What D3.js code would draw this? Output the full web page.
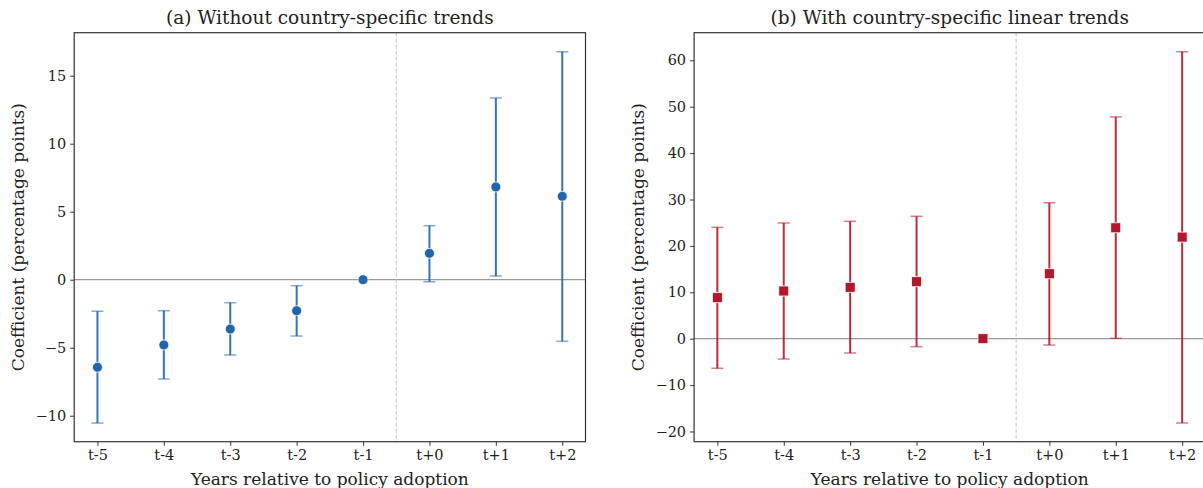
<!DOCTYPE html>
<html>
<head>
    <meta charset="utf-8">
    <title>Event study</title>
    <style>
    body { margin: 0; background: #fff; }
    text { font-family: "DejaVu Serif", serif; fill: #222; }
    </style>
</head>
<body>
<svg id="chart"></svg>
<script src="https://d3js.org/d3.v7.min.js"></script>
<script>

    // tick labels / categories
    const periods = ["t-5", "t-4", "t-3", "t-2", "t-1", "t+0", "t+1", "t+2"];

    // (a) without country-specific trends
    const coefA = [-6.44, -4.80, -3.63, -2.28, 0, 1.94, 6.82, 6.13];
    const lowA  = [-10.54, -7.30, -5.54, -4.14, 0, -0.15, 0.27, -4.53];
    const highA = [-2.32, -2.28, -1.69, -0.44, 0, 3.97, 13.36, 16.76];
    const ticksA = [-10, -5, 0, 5, 10, 15];

    // (b) with country-specific linear trends
    const coefB = [8.84, 10.28, 11.08, 12.28, 0, 14.0, 23.9, 21.9];
    const lowB  = [-6.38, -4.38, -3.08, -1.72, 0, -1.36, 0.08, -18.17];
    const highB = [24.0, 24.94, 25.3, 26.38, 0, 29.3, 47.8, 61.85];
    const ticksB = [-20, -10, 0, 10, 20, 30, 40, 50, 60];

    const svg = d3.select("#chart").attr("width", 1203).attr("height", 488);

    function panel(opts) {
        const left = opts.left, top = 32.7, width = 511.3, height = 409;
        const g = svg.append("g").attr("transform", "translate(" + left + "," + top + ")");

        const x = d3.scalePoint().domain(periods).range([0, width]).padding(0.35);
        const y = d3.scaleLinear().domain(opts.ydomain).range([height, 0]);

        let rows = [];
        for (let i = 0; i < periods.length; i++) {
            rows.push({p: periods[i], c: opts.coef[i], lo: opts.low[i], hi: opts.high[i]});
        }

        // zero line and adoption line
        g.append("line")
            .attr("x1", 0).attr("x2", width)
            .attr("y1", y(0)).attr("y2", y(0))
            .attr("stroke", "#999").attr("stroke-width", 1.2);
        const vx = x("t-1") + x.step() / 2;
        g.append("line")
            .attr("x1", vx).attr("x2", vx)
            .attr("y1", 0).attr("y2", height)
            .attr("stroke", "#c4c4c4").attr("stroke-width", 1)
            .attr("stroke-dasharray", "4,2");

        // error bars (skip the reference period)
        const bars = rows.filter(function(d) { return d.hi !== d.lo; });
        g.selectAll(".eb").data(bars).enter().append("line")
            .attr("x1", function(d) { return x(d.p); })
            .attr("x2", function(d) { return x(d.p); })
            .attr("y1", function(d) { return y(d.lo); })
            .attr("y2", function(d) { return y(d.hi); })
            .attr("stroke", opts.color).attr("stroke-width", 2).attr("opacity", 0.9);
        ["lo", "hi"].forEach(function(k) {
            g.selectAll(".cap-" + k).data(bars).enter().append("line")
                .attr("x1", function(d) { return x(d.p) - 6; })
                .attr("x2", function(d) { return x(d.p) + 6; })
                .attr("y1", function(d) { return y(d[k]); })
                .attr("y2", function(d) { return y(d[k]); })
                .attr("stroke", opts.color).attr("stroke-width", 1.5).attr("opacity", 0.55);
        });

        // markers
        if (opts.square) {
            g.selectAll(".pt").data(rows).enter().append("rect")
                .attr("x", function(d) { return x(d.p) - 5; })
                .attr("y", function(d) { return y(d.c) - 5; })
                .attr("width", 10).attr("height", 10)
                .attr("fill", opts.color).attr("stroke", "#fff").attr("stroke-width", 0.8);
        } else {
            g.selectAll(".pt").data(rows).enter().append("circle")
                .attr("cx", function(d) { return x(d.p); })
                .attr("cy", function(d) { return y(d.c); })
                .attr("r", 5)
                .attr("fill", opts.color).attr("stroke", "#fff").attr("stroke-width", 0.8);
        }

        // axes
        const xAxis = g.append("g")
            .attr("transform", "translate(0," + height + ")")
            .call(d3.axisBottom(x).tickSize(4).tickPadding(4));
        const yAxis = g.append("g")
            .call(d3.axisLeft(y).tickValues(opts.ticks).tickSize(4).tickPadding(4)
                .tickFormat(function(d) { return d < 0 ? "\u2212" + Math.abs(d) : d; }));
        [xAxis, yAxis].forEach(function(a) {
            a.select(".domain").remove();
            a.selectAll(".tick line").attr("stroke", "#333");
            a.selectAll(".tick text").attr("font-size", 14.5).attr("font-family", "DejaVu Serif").attr("fill", "#222");
        });

        // frame
        g.append("rect")
            .attr("width", width).attr("height", height)
            .attr("fill", "none").attr("stroke", "#333").attr("stroke-width", 1.2);

        g.append("text")
            .attr("x", width / 2).attr("y", -9)
            .attr("text-anchor", "middle").attr("font-size", 18.5)
            .text(opts.title);
        g.append("text")
            .attr("x", width / 2).attr("y", height + 43)
            .attr("text-anchor", "middle").attr("font-size", 17)
            .text("Years relative to policy adoption");
        g.append("text")
            .attr("transform", "rotate(-90)")
            .attr("x", -height / 2).attr("y", opts.ylabelOffset)
            .attr("text-anchor", "middle").attr("font-size", 17)
            .text("Coefficient (percentage points)");
    }

    panel({left: 74.2, title: "(a) Without country-specific trends",
           coef: coefA, low: lowA, high: highA, ticks: ticksA,
           ydomain: [-11.91, 18.16], color: "#2166ac", square: false, ylabelOffset: -50});
    panel({left: 694.1, title: "(b) With country-specific linear trends",
           coef: coefB, low: lowB, high: highB, ticks: ticksB,
           ydomain: [-22.2, 65.95], color: "#b2182b", square: true, ylabelOffset: -50});

</script>
</body>
</html>
